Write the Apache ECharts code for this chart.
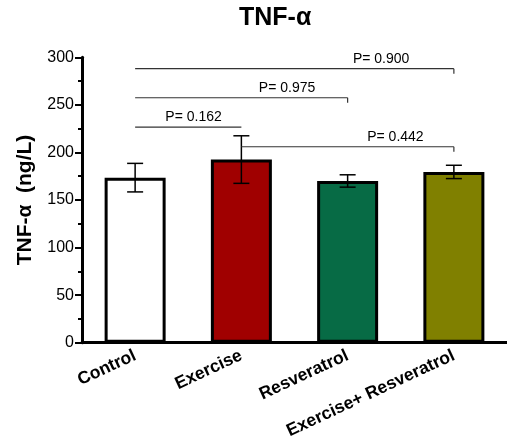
<!DOCTYPE html>
<html>
<head>
<meta charset="utf-8">
<script src="https://cdn.jsdelivr.net/npm/echarts@6/dist/echarts.min.js"></script>
<style>html,body{margin:0;padding:0;background:#fff;}#c{width:507px;height:447px;}</style>
</head>
<body>
<div id="c"></div>
<script>
var categories = ['Control', 'Exercise', 'Resveratrol', 'Exercise+ Resveratrol'];
var means = [173.5, 192.5, 170, 179.5];
var sems = [15, 25, 6.5, 7];
var barColors = ['#ffffff', '#a00000', '#076b45', '#808000'];
var yTicks = [0, 50, 100, 150, 200, 250, 300];
// comparison brackets: [fromIndex, toIndex, yValue, labelX (category units), hasEndTick, pLabel]
var brackets = [
  [0, 3, 288, 2.315, 1, 'P= 0.900'],
  [0, 2, 257.5, 1.43, 1, 'P= 0.975'],
  [0, 1, 226.5, 0.55, 0, 'P= 0.162'],
  [1, 3, 206, 2.45, 1, 'P= 0.442']
];

var FONT = '"Liberation Sans", Arial, sans-serif';
var chart = echarts.init(document.getElementById('c'));

var barData = means.map(function (m, i) {
  return { value: m, itemStyle: { color: barColors[i] } };
});
var errData = means.map(function (m, i) { return [i, m - sems[i], m + sems[i]]; });

chart.setOption({
  animation: false,
  title: {
    text: 'TNF-α', left: 239, top: 6, padding: 0,
    textStyle: { fontFamily: FONT, fontSize: 25, fontWeight: 'bold', color: '#000' }
  },
  grid: { left: 82, top: 57.3, width: 427, bottom: 104.3, containLabel: false },
  xAxis: {
    type: 'category', data: categories,
    axisLine: { lineStyle: { color: '#000', width: 3 } },
    axisTick: { alignWithLabel: true, length: 6, lineStyle: { color: '#000', width: 2 } },
    axisLabel: { rotate: 25, margin: 12, interval: 0, fontFamily: FONT, fontSize: 17.5, fontWeight: 'bold', color: '#000' }
  },
  yAxis: {
    type: 'value', min: yTicks[0], max: yTicks[yTicks.length - 1], interval: 50,
    name: 'TNF-α  (ng/L)', nameLocation: 'middle', nameGap: 46,
    nameTextStyle: { fontFamily: FONT, fontSize: 21, fontWeight: 'bold', color: '#000' },
    axisLine: { show: true, lineStyle: { color: '#000', width: 3 } },
    axisTick: { show: true, length: 7, lineStyle: { color: '#000', width: 2 } },
    minorTick: { show: true, splitNumber: 2, length: 4, lineStyle: { color: '#000', width: 2 } },
    splitLine: { show: false },
    axisLabel: { margin: 8, fontFamily: FONT, fontSize: 16, color: '#000' }
  },
  series: [
    {
      type: 'bar', data: barData, barWidth: 61,
      itemStyle: { borderColor: '#000', borderWidth: 3 }
    },
    {
      type: 'custom', data: errData, z: 5,
      renderItem: function (params, api) {
        var x = api.value(0);
        var lo = api.coord([x, api.value(1)]);
        var hi = api.coord([x, api.value(2)]);
        var w = 8;
        var st = { stroke: '#000', lineWidth: 1.5 };
        return {
          type: 'group', children: [
            { type: 'line', shape: { x1: hi[0], y1: hi[1], x2: lo[0], y2: lo[1] }, style: st },
            { type: 'line', shape: { x1: hi[0] - w, y1: hi[1], x2: hi[0] + w, y2: hi[1] }, style: st },
            { type: 'line', shape: { x1: lo[0] - w, y1: lo[1], x2: lo[0] + w, y2: lo[1] }, style: st }
          ]
        };
      }
    },
    {
      type: 'custom', data: brackets, z: 6,
      renderItem: function (params, api) {
        var a = api.coord([api.value(0), api.value(2)]);
        var b = api.coord([api.value(1), api.value(2)]);
        var lx = api.coord([0, api.value(2)])[0] + (api.coord([1, 0])[0] - api.coord([0, 0])[0]) * api.value(3);
        var st = { stroke: '#333', lineWidth: 1.2 };
        var kids = [
          { type: 'line', shape: { x1: a[0], y1: a[1], x2: b[0], y2: b[1] }, style: st }
        ];
        if (api.value(4)) {
          kids.push({ type: 'line', shape: { x1: b[0], y1: b[1], x2: b[0], y2: b[1] + 5 }, style: st });
        }
        kids.push({
          type: 'text', x: lx, y: a[1] - 3,
          style: { text: brackets[params.dataIndex][5], fill: '#000', font: '14px ' + FONT, align: 'center', verticalAlign: 'bottom' }
        });
        return { type: 'group', children: kids };
      }
    }
  ]
});
</script>
</body>
</html>
